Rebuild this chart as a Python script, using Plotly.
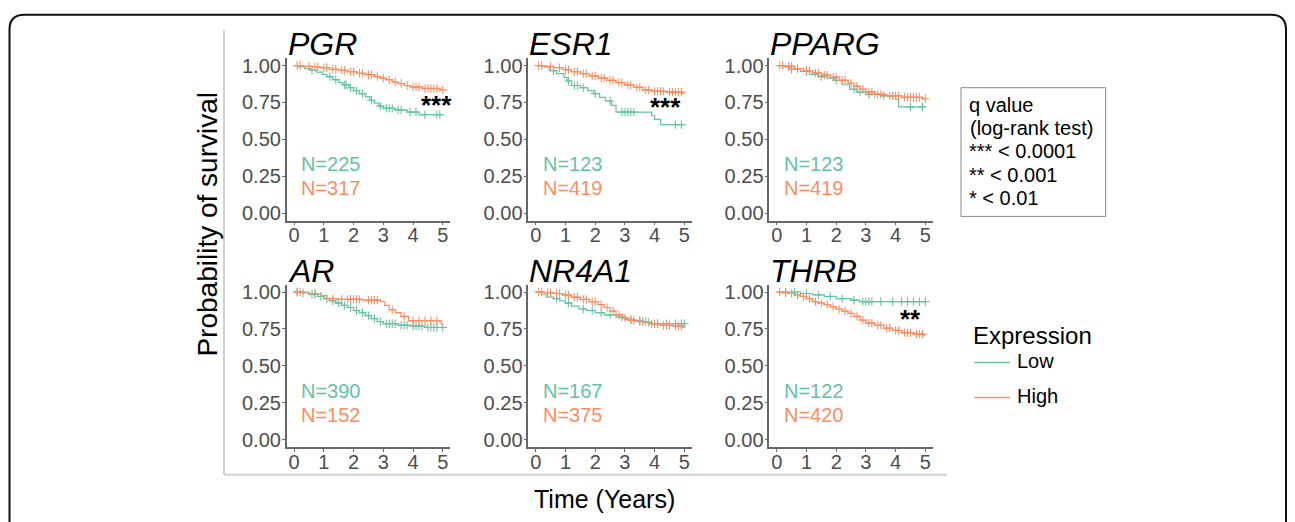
import numpy as np
import plotly.graph_objects as go

W, H = 1295, 522
GREEN = "#66c2a5"
ORANGE = "#fc8d62"
FONT = "Liberation Sans, Arial, Helvetica, sans-serif"

genes = ["PGR", "ESR1", "PPARG", "AR", "NR4A1", "THRB"]
n_low = [225, 123, 123, 390, 167, 122]
n_high = [317, 419, 419, 152, 375, 420]
stars = ["***", "***", "", "", "", "**"]
x_ticks = [0, 1, 2, 3, 4, 5]
y_ticks = [0, 0.25, 0.5, 0.75, 1.0]
y_ticklabels = ["0.00", "0.25", "0.50", "0.75", "1.00"]
q_lines = ["q value", "(log-rank test)", "*** < 0.0001", "** < 0.001", "* < 0.01"]
groups = ["Low", "High"]

# Kaplan-Meier step data (event times, survival after event), censor times
PGR_low_t = [0.15, 0.35, 0.55, 0.75, 0.95, 1.1, 1.3, 1.5, 1.65, 1.85, 2.0, 2.2, 2.4, 2.55, 2.7, 2.85, 3.0, 3.4, 3.8, 4.2]
PGR_low_s = [0.99, 0.98, 0.97, 0.955, 0.94, 0.925, 0.905, 0.885, 0.87, 0.85, 0.83, 0.81, 0.79, 0.765, 0.745, 0.725, 0.71, 0.70, 0.685, 0.668]
PGR_low_c = [0.6, 1.2, 1.4, 1.7, 1.75, 1.9, 2.1, 2.3, 2.6, 2.9, 3.1, 3.2, 3.3, 3.5, 3.6, 3.9, 4.1, 4.4, 4.8, 4.9]
PGR_high_t = [0.3, 0.6, 0.9, 1.2, 1.5, 1.8, 2.1, 2.4, 2.7, 2.9, 3.1, 3.3, 3.5, 3.7, 3.9, 4.3, 4.9]
PGR_high_s = [0.995, 0.99, 0.985, 0.975, 0.968, 0.958, 0.948, 0.938, 0.925, 0.915, 0.905, 0.89, 0.878, 0.865, 0.855, 0.845, 0.835]
PGR_high_c = [0.1, 0.2, 0.5, 0.7, 0.8, 1.0, 1.1, 1.3, 1.4, 1.6, 1.7, 1.9, 2.0, 2.2, 2.3, 2.5, 2.6, 2.8, 3.0, 3.2, 3.4, 3.6, 3.8, 4.0, 4.1, 4.2, 4.4, 4.5, 4.6, 4.7, 4.8, 5.0]

ESR1_low_t = [0.2, 0.45, 0.7, 0.95, 1.05, 1.2, 1.5, 1.75, 1.95, 2.15, 2.35, 2.55, 2.7, 3.9, 4.0, 4.2]
ESR1_low_s = [0.99, 0.965, 0.945, 0.92, 0.895, 0.865, 0.85, 0.83, 0.81, 0.785, 0.76, 0.73, 0.685, 0.66, 0.635, 0.60]
ESR1_low_c = [0.6, 1.1, 1.3, 1.4, 1.6, 2.0, 2.5, 2.9, 3.0, 3.1, 3.2, 3.3, 4.7, 4.9]
ESR1_high_t = [0.3, 0.6, 0.9, 1.2, 1.5, 1.8, 2.1, 2.4, 2.7, 3.0, 3.3, 3.6, 3.9, 4.4, 4.95]
ESR1_high_s = [0.995, 0.985, 0.972, 0.958, 0.945, 0.93, 0.915, 0.9, 0.885, 0.868, 0.852, 0.835, 0.825, 0.82, 0.81]
ESR1_high_c = [0.1, 0.2, 0.5, 0.8, 1.0, 1.1, 1.3, 1.4, 1.6, 1.7, 1.9, 2.0, 2.2, 2.3, 2.5, 2.6, 2.8, 2.9, 3.1, 3.2, 3.4, 3.5, 3.7, 3.8, 4.0, 4.1, 4.2, 4.3, 4.5, 4.6, 4.7, 4.8, 4.9]

PPARG_low_t = [0.2, 0.45, 0.8, 1.1, 1.4, 1.7, 1.95, 2.2, 2.45, 2.7, 3.0, 3.5, 4.0, 4.1]
PPARG_low_s = [0.99, 0.975, 0.96, 0.94, 0.925, 0.915, 0.9, 0.87, 0.84, 0.82, 0.805, 0.795, 0.77, 0.72]
PPARG_low_c = [0.5, 1.0, 1.5, 2.0, 2.6, 2.8, 3.1, 3.3, 3.6, 4.5, 4.9]
PPARG_high_t = [0.3, 0.6, 0.9, 1.2, 1.5, 1.8, 2.1, 2.4, 2.6, 2.8, 3.0, 3.3, 3.7, 4.2, 4.9]
PPARG_high_s = [0.995, 0.98, 0.965, 0.95, 0.935, 0.92, 0.9, 0.88, 0.86, 0.84, 0.82, 0.805, 0.795, 0.785, 0.775]
PPARG_high_c = [0.1, 0.2, 0.4, 0.5, 0.7, 1.0, 1.1, 1.3, 1.4, 1.6, 1.7, 1.9, 2.0, 2.2, 2.3, 2.5, 2.7, 2.9, 3.1, 3.2, 3.4, 3.5, 3.8, 3.9, 4.0, 4.1, 4.3, 4.4, 4.5, 4.6, 4.7, 4.8, 5.0]

AR_low_t = [0.2, 0.5, 0.8, 1.0, 1.2, 1.4, 1.6, 1.8, 2.0, 2.2, 2.4, 2.6, 2.8, 3.0, 3.5, 3.9, 4.4]
AR_low_s = [0.995, 0.985, 0.97, 0.955, 0.94, 0.925, 0.91, 0.895, 0.875, 0.86, 0.84, 0.82, 0.8, 0.785, 0.775, 0.77, 0.76]
AR_low_c = [0.1, 0.3, 0.6, 0.7, 0.9, 1.1, 1.3, 1.5, 1.7, 1.9, 2.1, 2.3, 2.5, 2.7, 2.9, 3.1, 3.2, 3.3, 3.4, 3.6, 3.7, 3.8, 4.0, 4.1, 4.2, 4.3, 4.5, 4.6, 4.7, 4.8, 5.0]
AR_high_t = [0.5, 0.9, 1.1, 1.5, 2.3, 2.9, 3.05, 3.2, 3.4, 3.6, 3.85, 4.95]
AR_high_s = [0.99, 0.975, 0.955, 0.95, 0.945, 0.935, 0.91, 0.88, 0.86, 0.835, 0.805, 0.78]
AR_high_c = [0.1, 0.2, 0.7, 1.3, 1.6, 1.8, 1.9, 2.0, 2.1, 2.2, 2.5, 2.6, 2.7, 2.8, 3.3, 3.7, 4.0, 4.2, 4.4, 4.6, 4.8]

NR4A1_low_t = [0.2, 0.35, 0.6, 0.8, 1.0, 1.2, 1.45, 1.7, 2.0, 2.3, 2.7, 3.0, 3.3, 3.6, 3.9]
NR4A1_low_s = [0.985, 0.965, 0.955, 0.94, 0.925, 0.905, 0.885, 0.875, 0.86, 0.845, 0.83, 0.815, 0.805, 0.795, 0.785]
NR4A1_low_c = [0.7, 1.1, 1.6, 1.9, 2.2, 2.5, 2.9, 3.2, 3.5, 3.8, 4.1, 4.4, 4.7, 4.9, 5.0]
NR4A1_high_t = [0.3, 0.6, 0.9, 1.2, 1.5, 1.8, 2.1, 2.3, 2.5, 2.7, 2.9, 3.1, 3.4, 3.8, 4.2, 4.6, 4.95]
NR4A1_high_s = [0.995, 0.99, 0.98, 0.965, 0.95, 0.935, 0.915, 0.895, 0.87, 0.845, 0.825, 0.81, 0.8, 0.785, 0.775, 0.77, 0.76]
NR4A1_high_c = [0.1, 0.2, 0.4, 0.5, 0.7, 0.8, 1.0, 1.1, 1.3, 1.4, 1.6, 1.7, 1.9, 2.0, 2.2, 2.4, 2.6, 2.8, 3.0, 3.2, 3.3, 3.5, 3.6, 3.7, 3.9, 4.0, 4.1, 4.3, 4.4, 4.5, 4.7, 4.8, 4.9]

THRB_low_t = [0.8, 1.2, 1.6, 2.0, 2.5, 2.8]
THRB_low_s = [0.99, 0.98, 0.97, 0.955, 0.945, 0.935]
THRB_low_c = [0.3, 0.6, 1.0, 1.4, 1.8, 2.2, 2.6, 2.9, 3.0, 3.1, 3.2, 3.5, 3.9, 4.2, 4.4, 4.6, 4.8, 5.0]
THRB_high_t = [0.2, 0.4, 0.6, 0.8, 1.0, 1.2, 1.4, 1.6, 1.8, 2.0, 2.2, 2.4, 2.6, 2.8, 3.0, 3.3, 3.6, 3.9, 4.2, 4.6, 4.95]
THRB_high_s = [0.995, 0.99, 0.98, 0.97, 0.955, 0.935, 0.925, 0.915, 0.9, 0.885, 0.87, 0.855, 0.835, 0.81, 0.79, 0.775, 0.755, 0.74, 0.725, 0.715, 0.705]
THRB_high_c = [0.1, 0.3, 0.5, 0.7, 0.9, 1.1, 1.3, 1.5, 1.7, 1.9, 2.1, 2.3, 2.5, 2.7, 2.9, 3.1, 3.2, 3.4, 3.5, 3.7, 3.8, 4.0, 4.1, 4.3, 4.4, 4.5, 4.7, 4.8, 4.9]

curves = {
    "PGR": [(PGR_low_t, PGR_low_s, PGR_low_c), (PGR_high_t, PGR_high_s, PGR_high_c)],
    "ESR1": [(ESR1_low_t, ESR1_low_s, ESR1_low_c), (ESR1_high_t, ESR1_high_s, ESR1_high_c)],
    "PPARG": [(PPARG_low_t, PPARG_low_s, PPARG_low_c), (PPARG_high_t, PPARG_high_s, PPARG_high_c)],
    "AR": [(AR_low_t, AR_low_s, AR_low_c), (AR_high_t, AR_high_s, AR_high_c)],
    "NR4A1": [(NR4A1_low_t, NR4A1_low_s, NR4A1_low_c), (NR4A1_high_t, NR4A1_high_s, NR4A1_high_c)],
    "THRB": [(THRB_low_t, THRB_low_s, THRB_low_c), (THRB_high_t, THRB_high_s, THRB_high_c)],
}
T_END = 5.0


def px(x):
    return x / W


def py(y):
    return 1 - y / H


def surv_at(times, survs, t):
    idx = np.searchsorted(np.asarray(times), t, side="right")
    return 1.0 if idx == 0 else survs[idx - 1]


# panel geometry in pixels
col_left = [286.7, 528.3, 769.3]
panel_w = 163.5
row_top = [55, 285]
panel_h = 165

fig = go.Figure()
layout = dict(
    width=W, height=H, autosize=False,
    margin=dict(l=0, r=0, t=0, b=0),
    paper_bgcolor="white", plot_bgcolor="white",
    showlegend=False,
    font=dict(family=FONT),
)
annotations = []
shapes = []

for i, g in enumerate(genes):
    r, c = divmod(i, 3)
    k = i + 1
    xa = "x" if k == 1 else f"x{k}"
    ya = "y" if k == 1 else f"y{k}"
    x0, x1 = col_left[c], col_left[c] + panel_w
    y0, y1 = row_top[r], row_top[r] + panel_h
    axis_common = dict(
        showgrid=False, zeroline=False, showline=True, linecolor="#666", linewidth=1.5,
        ticks="outside", ticklen=3, tickcolor="#666", tickwidth=1,
        tickfont=dict(size=20, color="#4d4d4d", family=FONT),
    )
    layout["xaxis" if k == 1 else f"xaxis{k}"] = dict(
        domain=[px(x0), px(x1)], anchor=ya, range=[-0.25, 5.25], ticklabelstandoff=-7,
        tickvals=x_ticks, ticktext=[str(v) for v in x_ticks], **axis_common)
    layout["yaxis" if k == 1 else f"yaxis{k}"] = dict(
        domain=[py(y1), py(y0)], anchor=xa, range=[-0.05, 1.05], ticklabelstandoff=-3,
        tickvals=y_ticks, ticktext=y_ticklabels, **axis_common)

    for (ts, ss, cs), color, gname in zip(curves[g], [GREEN, ORANGE], groups):
        xs = [0.0] + list(ts) + [T_END]
        ys = [1.0] + list(ss) + [ss[-1]]
        fig.add_trace(go.Scatter(x=xs, y=ys, mode="lines", line=dict(color=color, width=1.2, shape="hv"),
                                 xaxis=xa, yaxis=ya, name=gname, hoverinfo="skip"))
        cy = [surv_at(ts, ss, t) for t in cs]
        fig.add_trace(go.Scatter(x=cs, y=cy, mode="markers",
                                 marker=dict(symbol="cross-thin", size=6, line=dict(color=color, width=1.1)),
                                 xaxis=xa, yaxis=ya, name=gname, hoverinfo="skip"))

    # gene title
    annotations.append(dict(text=f"<i>{g}</i>", x=px(x0 - 1), y=py(y0 - 14), xref="paper", yref="paper",
                            xanchor="left", yanchor="middle", showarrow=False,
                            font=dict(size=32, color="black", family=FONT)))
    # N labels
    annotations.append(dict(text=f"N={n_low[i]}", x=0.18, y=0.33, xref=xa, yref=ya, xanchor="left",
                            yanchor="middle", showarrow=False, font=dict(size=20, color=GREEN, family=FONT)))
    annotations.append(dict(text=f"N={n_high[i]}", x=0.18, y=0.17, xref=xa, yref=ya, xanchor="left",
                            yanchor="middle", showarrow=False, font=dict(size=20, color=ORANGE, family=FONT)))

# significance stars
star_pos = {0: (4.8, 0.73), 1: (4.35, 0.72), 5: (4.5, 0.82)}
for i, (sx, sy) in star_pos.items():
    k = i + 1
    xa = "x" if k == 1 else f"x{k}"
    ya = "y" if k == 1 else f"y{k}"
    annotations.append(dict(text=f"<b>{stars[i]}</b>", x=sx, y=sy, xref=xa, yref=ya, xanchor="center",
                            yanchor="middle", showarrow=False, font=dict(size=26, color="black", family=FONT)))

# axis titles
annotations.append(dict(text="Probability of survival", x=px(208), y=py(224), xref="paper", yref="paper",
                        textangle=-90, showarrow=False, xanchor="center", yanchor="middle",
                        font=dict(size=28, color="black", family=FONT)))
annotations.append(dict(text="Time (Years)", x=px(604), y=py(503), xref="paper", yref="paper",
                        showarrow=False, xanchor="center", yanchor="middle",
                        font=dict(size=25, color="black", family=FONT)))

# q value box
shapes.append(dict(type="rect", xref="paper", yref="paper", x0=px(961), x1=px(1105.7), y0=py(215.7), y1=py(85),
                   line=dict(color="#888", width=1)))
q_y = [103.3, 127.3, 150.5, 174.3, 198.3]
for txt, yy in zip(q_lines, q_y):
    annotations.append(dict(text=txt, x=px(967.5), y=py(yy - 1), xref="paper", yref="paper", xanchor="left",
                            yanchor="middle", showarrow=False, font=dict(size=20, color="black", family=FONT)))

# Expression legend
annotations.append(dict(text="Expression", x=px(970.5), y=py(336.7), xref="paper", yref="paper", xanchor="left",
                        yanchor="middle", showarrow=False, font=dict(size=24, color="black", family=FONT)))
for gname, color, yy in zip(groups, [GREEN, ORANGE], [364, 399.5]):
    shapes.append(dict(type="line", xref="paper", yref="paper", x0=px(974.5), x1=px(1010), y0=py(yy), y1=py(yy),
                       line=dict(color=color, width=1.5)))
    annotations.append(dict(text=gname, x=px(1015), y=py(yy - 1), xref="paper", yref="paper", xanchor="left",
                            yanchor="middle", showarrow=False, font=dict(size=20, color="black", family=FONT)))

# light grey L frame
shapes.append(dict(type="line", xref="paper", yref="paper", x0=px(224), x1=px(224), y0=py(478), y1=py(27),
                   line=dict(color="#d0d0d0", width=2)))
shapes.append(dict(type="line", xref="paper", yref="paper", x0=px(224), x1=px(947), y0=py(478), y1=py(478),
                   line=dict(color="#d0d0d0", width=2)))

# outer rounded border
L, R, T, B, rr = 9.5, 1286, 11, 560, 15
path = (f"M {px(L)},{py(B)} L {px(L)},{py(T + rr)} Q {px(L)},{py(T)} {px(L + rr)},{py(T)} "
        f"L {px(R - rr)},{py(T)} Q {px(R)},{py(T)} {px(R)},{py(T + rr)} L {px(R)},{py(B)}")
shapes.append(dict(type="path", xref="paper", yref="paper", path=path, line=dict(color="#111", width=2)))

layout["annotations"] = annotations
layout["shapes"] = shapes
fig.update_layout(**layout)
fig.write_html("out.html", config={"displayModeBar": False},
               post_script="document.body.style.margin='0px';document.body.style.overflow='hidden';")
